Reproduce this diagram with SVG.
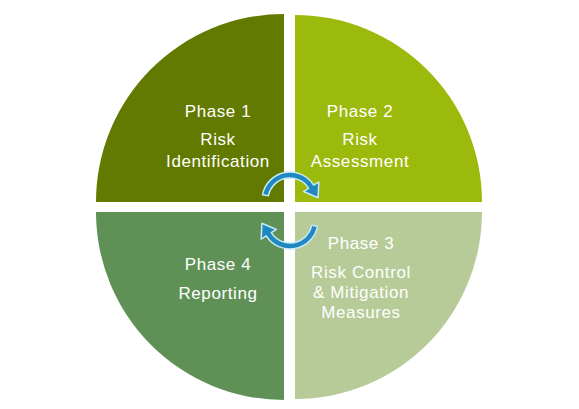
<svg xmlns="http://www.w3.org/2000/svg" width="579" height="409" viewBox="0 0 579 409">
  <style>
    .lbl { font-family: "Liberation Sans", Arial, sans-serif; font-size: 17px; fill: #ffffff; text-anchor: middle; letter-spacing: 0.6px; }
    .arrow { fill: #1f88c0; stroke: #c8e8f4; stroke-width: 1.5; stroke-linejoin: round; }
  </style>
  <defs>
    <path id="cyc" d="M -27.49,-5.34 A 28 28 0 0 1 23.74,-14.84 L 28.83,-18.02 L 28.09,-2.23 L 13.57,-8.48 L 18.66,-11.66 A 22 22 0 0 0 -21.6,-4.2 Z"/>
  </defs>
  <rect width="579" height="409" fill="#ffffff"/>
  <g id="phase1">
    <path d="M 284,202 L 96,202 A 188 188 0 0 1 284,14 Z" fill="#627a00"/>
    <text class="lbl" x="218" y="117">Phase 1</text>
    <text class="lbl" x="218" y="145">Risk</text>
    <text class="lbl" x="218" y="167">Identification</text>
  </g>
  <g id="phase2">
    <path d="M 295,202 L 295,15 A 187 187 0 0 1 482,202 Z" fill="#9bba0b"/>
    <text class="lbl" x="360" y="117">Phase 2</text>
    <text class="lbl" x="360" y="145">Risk</text>
    <text class="lbl" x="360" y="167">Assessment</text>
  </g>
  <g id="phase3">
    <path d="M 295,212 L 482,212 A 187 187 0 0 1 295,399 Z" fill="#b6cb97"/>
    <text class="lbl" x="361" y="249">Phase 3</text>
    <text class="lbl" x="361" y="278">Risk Control</text>
    <text class="lbl" x="361" y="298">&amp; Mitigation</text>
    <text class="lbl" x="361" y="318">Measures</text>
  </g>
  <g id="phase4">
    <path d="M 284,212 L 284,400 A 188 188 0 0 1 96,212 Z" fill="#5f9157"/>
    <text class="lbl" x="218" y="270">Phase 4</text>
    <text class="lbl" x="218" y="299">Reporting</text>
  </g>
  <g id="connectors">
    <use href="#cyc" class="arrow" transform="translate(290,200)"/>
    <use href="#cyc" class="arrow" transform="translate(290,221) rotate(180)"/>
  </g>
</svg>
